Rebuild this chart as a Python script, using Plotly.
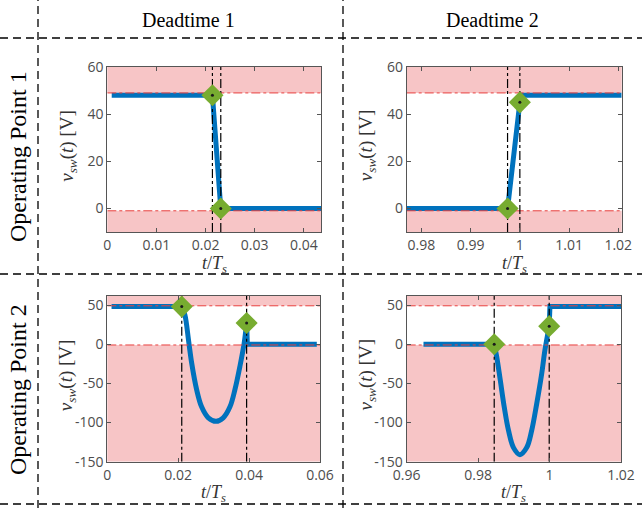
import plotly.graph_objects as go

# ---------------- data ----------------
col_titles = ["Deadtime 1", "Deadtime 2"]
row_titles = ["Operating Point 1", "Operating Point 2"]

upper_limit = 49
lower_limit = -1

# Operating point 1, deadtime 1
op1_dt1_t = [0.0009, 0.0214, 0.0231, 0.0435]
op1_dt1_v = [48, 48, 0, 0]
op1_dt1_mark_t = [0.0214, 0.0231]
op1_dt1_mark_v = [48, 0]

# Operating point 1, deadtime 2
op1_dt2_t = [0.977, 0.9975, 1.0, 1.0003, 1.0207]
op1_dt2_v = [0, 0, 45, 48, 48]
op1_dt2_mark_t = [0.9975, 1.0]
op1_dt2_mark_v = [0, 45]

# Operating point 2, deadtime 1
op2_dt1_t = [0.0012, 0.021, 0.0219, 0.0229, 0.0238, 0.0252, 0.0266, 0.0285,
             0.0307, 0.0327, 0.0346, 0.036, 0.0374, 0.0386, 0.0393, 0.0395, 0.0591]
op2_dt1_v = [48, 48, 37, 5.5, -24, -58, -80, -94,
             -98.5, -94, -80, -58, -28.5, 1, 27, 0, 0]
op2_dt1_mark_t = [0.021, 0.0393]
op2_dt1_mark_v = [48, 27]

# Operating point 2, deadtime 2
op2_dt2_t = [0.9647, 0.9845, 0.9852, 0.9862, 0.9873, 0.9885, 0.9899, 0.9917,
             0.9936, 0.995, 0.9964, 0.9978, 0.9987, 0.9999, 1.0001, 1.02]
op2_dt2_v = [0, 0, -16, -46, -80, -110, -132, -141,
             -132, -110, -76, -37.6, -7.7, 23, 48, 48]
op2_dt2_mark_t = [0.9845, 0.9999]
op2_dt2_mark_v = [0, 23]

x_ranges = [[0, 0.0435], [0.977, 1.0207], [0, 0.06], [0.96, 1.02]]
y_ranges = [[-10, 60], [-10, 60], [-150, 61.5], [-150, 61.5]]
x_ticks = [[0, 0.01, 0.02, 0.03, 0.04], [0.98, 0.99, 1.0, 1.01, 1.02],
           [0, 0.02, 0.04, 0.06], [0.96, 0.98, 1.0, 1.02]]
x_ticktext = [["0", "0.01", "0.02", "0.03", "0.04"], ["0.98", "0.99", "1", "1.01", "1.02"],
              ["0", "0.02", "0.04", "0.06"], ["0.96", "0.98", "1", "1.02"]]
y_ticks = [[0, 20, 40, 60], [0, 20, 40, 60],
           [-150, -100, -50, 0, 50], [-150, -100, -50, 0, 50]]
y_ticktext = [["0", "20", "40", "60"], ["0", "20", "40", "60"],
              ["-150", "-100", "-50", "0", "50"], ["-150", "-100", "-50", "0", "50"]]

panels = [
    (op1_dt1_t, op1_dt1_v, op1_dt1_mark_t, op1_dt1_mark_v),
    (op1_dt2_t, op1_dt2_v, op1_dt2_mark_t, op1_dt2_mark_v),
    (op2_dt1_t, op2_dt1_v, op2_dt1_mark_t, op2_dt1_mark_v),
    (op2_dt2_t, op2_dt2_v, op2_dt2_mark_t, op2_dt2_mark_v),
]

# ---------------- layout geometry ----------------
W, H = 642, 508
def px(x):
    return x / W
def py(y):
    return 1 - y / H

x_domains = [[px(107.3), px(321)], [px(406.7), px(621.7)],
             [px(107.3), px(320)], [px(406.7), px(621)]]
y_domains = [[py(232), py(67)], [py(232), py(67)],
             [py(461.7), py(296)], [py(461.7), py(296)]]

BLUE = "#0072BD"
GREEN = "#77AC30"
PINK = "#F7C5C6"
RED = "#E8413F"
AX = "#555555"
TICKFONT = dict(family="Open Sans", size=14, color="#4D4D4D")
SERIF = "Liberation Serif"

fig = go.Figure()
layout = dict(template="none", width=W, height=H, autosize=False,
              margin=dict(l=0, r=0, t=0, b=0, pad=0, autoexpand=False),
              paper_bgcolor="white", plot_bgcolor="white", showlegend=False,
              hovermode=False)
shapes = []
annotations = []

for i, (t, v, mt, mv) in enumerate(panels):
    n = "" if i == 0 else str(i + 1)
    xa, ya = "x" + n, "y" + n
    xr, yr = x_ranges[i], y_ranges[i]
    # blue waveform: straight pieces outside the switching interval, smooth inside
    if i >= 2:
        k0 = t.index(mt[0])
        k1 = t.index(mt[1])
        fig.add_trace(go.Scatter(x=t[:k0 + 1], y=v[:k0 + 1], mode="lines", xaxis=xa, yaxis=ya,
                                 line=dict(color=BLUE, width=5)))
        fig.add_trace(go.Scatter(x=t[k0:k1 + 1], y=v[k0:k1 + 1], mode="lines", xaxis=xa,
                                 yaxis=ya, line=dict(color=BLUE, width=5, shape="spline",
                                                     smoothing=1.0)))
        fig.add_trace(go.Scatter(x=t[k1:], y=v[k1:], mode="lines", xaxis=xa, yaxis=ya,
                                 line=dict(color=BLUE, width=5)))
    else:
        fig.add_trace(go.Scatter(x=t, y=v, mode="lines", xaxis=xa, yaxis=ya,
                                 line=dict(color=BLUE, width=5)))
    # red limit lines
    for lim in (upper_limit, lower_limit):
        fig.add_trace(go.Scatter(x=xr, y=[lim, lim], mode="lines", xaxis=xa, yaxis=ya,
                                 line=dict(color=RED, width=1, dash="dashdot")))
    # black dash-dot vertical lines at switching instants
    for tt in mt:
        fig.add_trace(go.Scatter(x=[tt, tt], y=yr, mode="lines", xaxis=xa, yaxis=ya,
                                 line=dict(color="black", width=1.2, dash="dashdot")))
    # green diamonds + centre dot
    fig.add_trace(go.Scatter(x=mt, y=mv, mode="markers", xaxis=xa, yaxis=ya,
                             marker=dict(symbol="diamond", size=17, color=GREEN,
                                         line=dict(width=0))))
    fig.add_trace(go.Scatter(x=mt, y=mv, mode="markers", xaxis=xa, yaxis=ya,
                             marker=dict(symbol="circle", size=3, color="#1a1a1a")))
    # pink regions beyond limits
    shapes.append(dict(type="rect", xref=xa + " domain", yref=ya, x0=0, x1=1,
                       y0=upper_limit, y1=yr[1], fillcolor=PINK, line=dict(width=0),
                       layer="below"))
    shapes.append(dict(type="rect", xref=xa + " domain", yref=ya, x0=0, x1=1,
                       y0=yr[0], y1=lower_limit, fillcolor=PINK, line=dict(width=0),
                       layer="below"))
    axis_common = dict(showline=True, linecolor=AX, linewidth=1, mirror="ticks",
                       ticks="inside", ticklen=4, tickcolor=AX, showgrid=False,
                       zeroline=False, tickfont=TICKFONT, automargin=False)
    layout["xaxis" + n] = dict(axis_common, domain=x_domains[i], range=xr,
                               tickvals=x_ticks[i], ticktext=x_ticktext[i],
                               anchor=ya)
    layout["yaxis" + n] = dict(axis_common, domain=y_domains[i], range=yr,
                               tickvals=y_ticks[i], ticktext=y_ticktext[i],
                               anchor=xa)
    # axis titles
    xc = (x_domains[i][0] + x_domains[i][1]) / 2
    ybot = y_domains[i][0]
    annotations.append(dict(text="<i>t</i>/<i>T</i><sub><i>s</i></sub>", xref="paper",
                            yref="paper", x=xc, y=ybot - 32 / H, showarrow=False,
                            font=dict(family=SERIF, size=18, color="#333333"),
                            xanchor="center", yanchor="middle"))
    yc = (y_domains[i][0] + y_domains[i][1]) / 2
    annotations.append(dict(text="<i>v</i><sub><i>sw</i></sub>(<i>t</i>) [V]",
                            xref="paper", yref="paper", x=x_domains[i][0] - 40 / W,
                            y=yc + 4 / H, showarrow=False, textangle=-90,
                            font=dict(family=SERIF, size=19, color="#333333"),
                            xanchor="center", yanchor="middle"))

# column / row headers
for txt, xc in zip(col_titles, [189, 492]):
    annotations.append(dict(text=txt, xref="paper", yref="paper", x=px(xc), y=py(20),
                            showarrow=False, font=dict(family=SERIF, size=20, color="black"),
                            xanchor="center", yanchor="middle"))
for txt, yc in zip(row_titles, [157, 390]):
    annotations.append(dict(text=txt, xref="paper", yref="paper", x=px(18), y=py(yc),
                            showarrow=False, textangle=-90,
                            font=dict(family=SERIF, size=24, color="black"),
                            xanchor="center", yanchor="middle"))

# dashed frame lines
dash_line = dict(color="black", width=1.3, dash="8px,5px")
for yy in (38, 274, 504):
    shapes.append(dict(type="line", xref="paper", yref="paper", x0=0, x1=1,
                       y0=py(yy), y1=py(yy), line=dash_line))
for xx in (38, 343):
    shapes.append(dict(type="line", xref="paper", yref="paper", x0=px(xx), x1=px(xx),
                       y0=0, y1=1, line=dash_line))

layout["shapes"] = shapes
layout["annotations"] = annotations
fig.update_layout(**layout)
fig.write_html("out.html", config={"displayModeBar": False, "staticPlot": True},
               post_script="document.body.style.margin='0';"
                           "document.body.style.overflow='hidden';")
